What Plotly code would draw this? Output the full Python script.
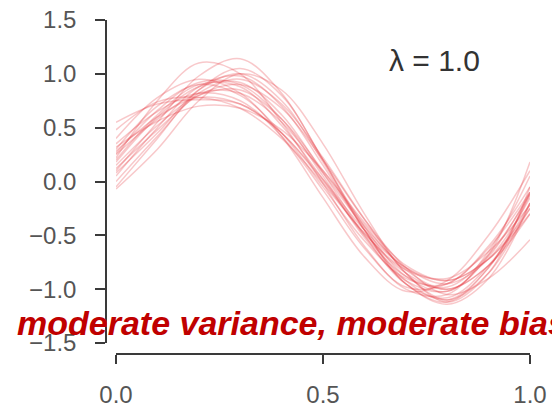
import plotly.graph_objects as go

W, H = 552, 412

x_vals = [0.0, 0.1, 0.2, 0.3, 0.4, 0.5, 0.6, 0.7, 0.8, 0.9, 1.0]

curve_01 = [0.20, 0.62, 0.90, 0.88, 0.52, 0.02, -0.50, -0.88, -0.98, -0.68, -0.12]
curve_02 = [0.55, 0.72, 0.76, 0.72, 0.45, 0.02, -0.45, -0.80, -0.92, -0.72, -0.30]
curve_03 = [0.48, 0.74, 0.78, 0.68, 0.40, -0.02, -0.48, -0.82, -0.90, -0.65, -0.22]
curve_04 = [-0.05, 0.40, 0.85, 1.05, 0.80, 0.20, -0.45, -0.95, -1.12, -0.80, -0.10]
curve_05 = [-0.07, 0.30, 0.75, 1.00, 0.85, 0.35, -0.30, -0.85, -1.10, -0.85, -0.20]
curve_06 = [0.10, 0.55, 0.98, 1.14, 0.82, 0.20, -0.42, -0.88, -1.02, -0.68, 0.18]
curve_07 = [0.30, 0.70, 0.90, 0.80, 0.45, -0.05, -0.55, -0.90, -0.95, -0.60, -0.05]
curve_08 = [0.25, 0.58, 0.82, 0.82, 0.55, 0.08, -0.42, -0.80, -0.95, -0.72, -0.15]
curve_09 = [0.05, 0.50, 0.88, 0.98, 0.70, 0.15, -0.45, -0.92, -1.10, -0.80, -0.12]
curve_10 = [0.35, 0.65, 0.82, 0.75, 0.42, -0.08, -0.62, -0.98, -0.95, -0.62, -0.10]
curve_11 = [0.15, 0.52, 0.80, 0.85, 0.58, 0.10, -0.40, -0.82, -1.00, -0.78, -0.25]
curve_12 = [0.22, 0.75, 1.10, 1.00, 0.55, -0.02, -0.60, -1.00, -1.05, -0.65, 0.05]
curve_13 = [0.12, 0.48, 0.80, 0.90, 0.68, 0.20, -0.35, -0.80, -1.05, -0.90, -0.54]
curve_14 = [0.40, 0.78, 0.95, 0.82, 0.42, -0.15, -0.70, -1.02, -0.92, -0.50, 0.10]
curve_15 = [0.28, 0.60, 0.78, 0.72, 0.45, 0.00, -0.48, -0.85, -1.00, -0.78, -0.30]
curve_16 = [0.00, 0.42, 0.82, 0.95, 0.72, 0.22, -0.35, -0.85, -1.12, -0.85, -0.05]
curve_17 = [0.18, 0.60, 0.88, 0.92, 0.62, 0.08, -0.50, -0.95, -1.08, -0.78, -0.20]
curve_18 = [0.32, 0.56, 0.70, 0.68, 0.48, 0.10, -0.38, -0.78, -0.92, -0.72, -0.25]
curve_19 = [0.08, 0.45, 0.85, 1.00, 0.75, 0.18, -0.45, -0.95, -1.14, -0.90, -0.20]
curve_20 = [0.26, 0.66, 0.92, 0.90, 0.58, 0.05, -0.52, -0.92, -1.02, -0.70, -0.10]

curves = [curve_01, curve_02, curve_03, curve_04, curve_05, curve_06, curve_07,
          curve_08, curve_09, curve_10, curve_11, curve_12, curve_13, curve_14,
          curve_15, curve_16, curve_17, curve_18, curve_19, curve_20]

x_ticks = [0.0, 0.5, 1.0]
x_tick_labels = ["0.0", "0.5", "1.0"]
y_ticks = [-1.5, -1.0, -0.5, 0.0, 0.5, 1.0, 1.5]
y_tick_labels = ["\u22121.5", "\u22121.0", "\u22120.5", "0.0", "0.5", "1.0", "1.5"]

lambda_label = "\u03bb = 1.0"
caption = "moderate variance, moderate bias"

fig = go.Figure()
for c in curves:
    fig.add_trace(go.Scatter(
        x=x_vals, y=c, mode="lines",
        line=dict(color="rgba(228,50,60,0.27)", width=1.5, shape="spline", smoothing=1.0),
        hoverinfo="skip", showlegend=False,
    ))

axis_color = "#3a3a3a"
tick_font = dict(family="Liberation Sans, Arial, sans-serif", size=24, color="#555555")

fig.update_layout(
    width=W, height=H,
    margin=dict(l=0, r=0, t=0, b=0, pad=0, autoexpand=False),
    paper_bgcolor="white", plot_bgcolor="white",
    showlegend=False,
    xaxis=dict(
        domain=[116 / W, 530 / W], range=[0, 1],
        anchor="free", position=(H - 354) / H, automargin=False,
        showline=True, linecolor=axis_color, linewidth=1.5,
        ticks="outside", ticklen=9, tickwidth=1.5, tickcolor=axis_color,
        tickvals=x_ticks, ticktext=x_tick_labels, tickfont=tick_font,
        ticklabelstandoff=10,
        showgrid=False, zeroline=False,
    ),
    yaxis=dict(
        domain=[(H - 343) / H, (H - 20) / H], range=[-1.5, 1.5],
        anchor="free", position=106 / W, automargin=False,
        showline=True, linecolor=axis_color, linewidth=1.5,
        ticks="outside", ticklen=10, tickwidth=1.5, tickcolor=axis_color,
        tickvals=y_ticks, ticktext=y_tick_labels, tickfont=tick_font,
        ticklabelstandoff=14,
        showgrid=False, zeroline=False,
    ),
)

fig.add_annotation(
    text=lambda_label, xref="paper", yref="paper",
    x=435 / W, y=(H - 60) / H, xanchor="center", yanchor="middle",
    showarrow=False,
    font=dict(family="Liberation Sans, Arial, sans-serif", size=30, color="#333333"),
)

fig.add_annotation(
    text="<b><i>" + caption + "</i></b>", xref="paper", yref="paper",
    x=15 / W, y=(H - 323) / H, xanchor="left", yanchor="middle",
    showarrow=False,
    font=dict(family="Liberation Sans, Arial, sans-serif", size=34, color="#c00000"),
)

fig.write_html("out.html")
